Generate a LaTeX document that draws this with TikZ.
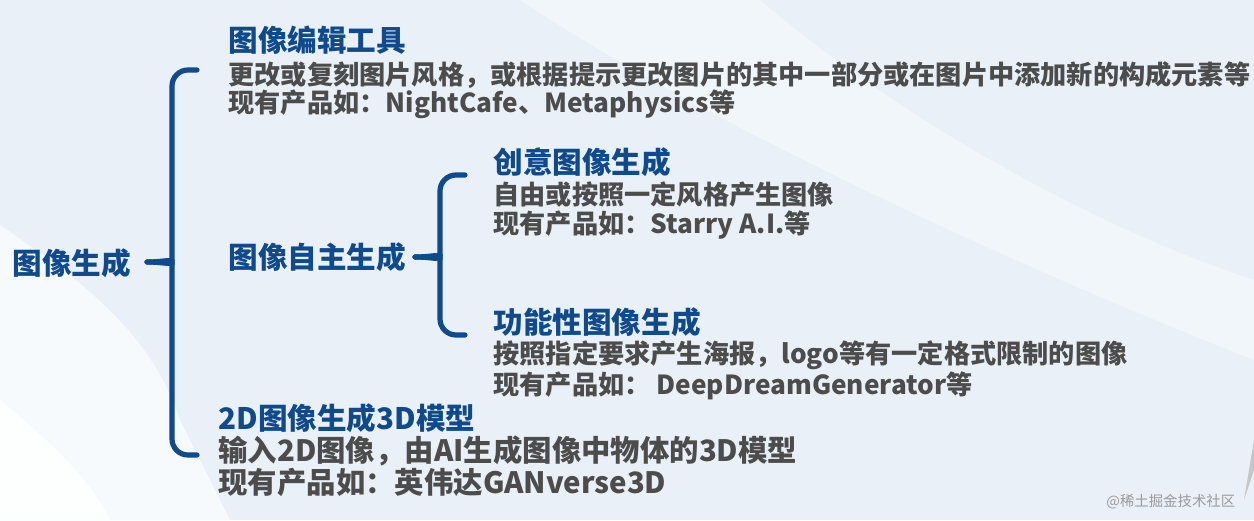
\documentclass[tikz,border=0pt]{standalone}
\usepackage{fontspec}
\setmainfont{Noto Sans CJK SC}
\usepackage{tikz}
\definecolor{bg}{HTML}{EAF0F8}
\definecolor{swoosh}{HTML}{F7FAFD}
\definecolor{title}{HTML}{0E4A8C}
\definecolor{body}{HTML}{4C4C4C}
\definecolor{mark}{HTML}{9A9A9A}
\tikzset{
  brace/.style={draw=title, line width=2.6pt, line cap=round, line join=round},
  head/.style={text=title, anchor=west, inner sep=0pt, font=\bfseries\fontsize{14.8}{17}\selectfont},
  txt/.style={text=body, anchor=west, inner sep=0pt, font=\bfseries\fontsize{13.1}{16}\selectfont},
  bigtxt/.style={txt, font=\bfseries\fontsize{14.7}{17}\selectfont},
  wm/.style={text=mark, anchor=west, inner sep=0pt, font=\fontsize{7.2}{9}\selectfont}
}

\begin{document}
\begin{tikzpicture}[x=0.5pt, y=-0.5pt]
  % background
  \fill[bg] (0,0) rectangle (1254,520);
  \fill[swoosh] (0,225) .. controls (80,280) and (150,330) .. (180,420) -- (230,520) -- (0,520) -- cycle;
  \fill[swoosh, opacity=0.6] (520,0) -- (760,0) .. controls (900,120) and (1100,230) .. (1254,280) -- (1254,360) .. controls (1000,260) and (700,120) .. cycle;
  \fill[white, opacity=0.8] (0,520) -- (0,400) .. controls (60,450) and (90,480) .. (110,520) -- cycle;
  \fill[gray!45] (1254,440) -- (1244,500) -- (1254,470) -- cycle;
  \useasboundingbox (0,0) rectangle (1254,520);

  % root
  \node[head] (root) at (12,263) {图像生成};

  % big brace
  \coordinate (btop) at (197,70);
  \coordinate (bbot) at (197,455);
  \coordinate (btip) at (147,262);
  \draw[brace, rounded corners=8pt] (btop) -| (172,248) .. controls (172,258) and (166,262) .. (btip);
  \draw[brace, rounded corners=8pt] (btip) .. controls (166,262) and (172,266) .. (172,276) |- (bbot);

  % image editing
  \node[head] (edit) at (228,40) {图像编辑工具};
  \node[txt] (editdesc) at (228,75) {更改或复刻图片风格，或根据提示更改图片的其中一部分或在图片中添加新的构成元素等};
  \node[txt] (editprod) at (228,104) {现有产品如：NightCafe、Metaphysics等};

  % autonomous generation
  \node[head] (auto) at (228,257) {图像自主生成};
  \coordinate (stop) at (465,175);
  \coordinate (sbot) at (465,335);
  \coordinate (stip) at (415,257);
  \draw[brace, rounded corners=8pt] (stop) -| (440,243) .. controls (440,253) and (434,257) .. (stip);
  \draw[brace, rounded corners=8pt] (stip) .. controls (434,257) and (440,261) .. (440,271) |- (sbot);

  \node[head] (creative) at (493,162) {创意图像生成};
  \node[txt] (creativedesc) at (493,195) {自由或按照一定风格产生图像};
  \node[txt] (creativeprod) at (493,225) {现有产品如：Starry A.I.等};

  \node[head] (func) at (493,322) {功能性图像生成};
  \node[txt] (funcdesc) at (493,355) {按照指定要求产生海报，logo等有一定格式限制的图像};
  \node[txt] (funcprod) at (493,386) {现有产品如： DeepDreamGenerator等};

  % 2D to 3D
  \node[head] (threed) at (218,418) {2D图像生成3D模型};
  \node[bigtxt] (threeddesc) at (218,451) {输入2D图像，由AI生成图像中物体的3D模型};
  \node[bigtxt] (threedprod) at (218,482) {现有产品如：英伟达GANverse3D};

  \node[wm] (mark) at (1106,502) {@稀土掘金技术社区};
\end{tikzpicture}
\end{document}
